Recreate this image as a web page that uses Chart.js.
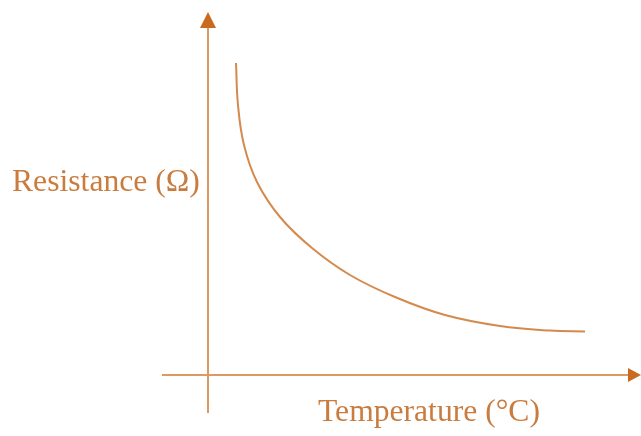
<!DOCTYPE html>
<html>
<head>
<meta charset="utf-8">
<script src="https://cdn.jsdelivr.net/npm/chart.js@4"></script>
<style>
  html, body { margin: 0; padding: 0; background: #fff; }
  #wrap { width: 641px; height: 436px; }
</style>
</head>
<body>
<div id="wrap"><canvas id="chart"></canvas></div>
<script>
// curve (arbitrary units, origin where the axes cross)
const temperature = [1.4, 1.5, 1.8, 2.45, 3.6, 5.2, 7.1, 9.35, 11.85, 14.6, 17.1, 18.85];
const resistance = [15.6, 13.5, 11.5, 9.65, 7.9, 6.35, 5.0, 3.9, 3.0, 2.45, 2.22, 2.18];
const xLabel = 'Temperature (\u00B0C)';
const yLabel = 'Resistance (\u03A9)';

const axisColor = '#dc9a62';
const arrowColor = '#c96a1f';
const textColor = '#c97c3e';
const curveColor = '#d48a4c';

// fit text into a given pixel width
function fitText(ctx, text, x, y, width, family) {
    let size = 30;
    ctx.font = size + 'px ' + family;
    const w = ctx.measureText(text).width;
    size = size * width / w;
    ctx.font = size + 'px ' + family;
    ctx.fillText(text, x, y);
}

const axesPlugin = {
    id: 'axesPlugin',
    afterDraw(chart) {
        const ctx = chart.ctx;
        const xs = chart.scales.x;
        const ys = chart.scales.y;
        const ox = xs.getPixelForValue(0);
        const oy = ys.getPixelForValue(0);
        ctx.save();
        ctx.strokeStyle = axisColor;
        ctx.lineWidth = 2;
        // vertical axis
        ctx.beginPath();
        ctx.moveTo(ox, ys.getPixelForValue(-1.9));
        ctx.lineTo(ox, ys.getPixelForValue(17.4));
        ctx.stroke();
        // horizontal axis
        ctx.beginPath();
        ctx.moveTo(xs.getPixelForValue(-2.3), oy);
        ctx.lineTo(xs.getPixelForValue(21.1), oy);
        ctx.stroke();
        // arrow heads
        ctx.fillStyle = arrowColor;
        const ty = ys.getPixelForValue(18.15);
        ctx.beginPath();
        ctx.moveTo(ox, ty);
        ctx.lineTo(ox - 8, ty + 16);
        ctx.lineTo(ox + 8, ty + 16);
        ctx.closePath();
        ctx.fill();
        const tx = xs.getPixelForValue(21.65);
        ctx.beginPath();
        ctx.moveTo(tx, oy);
        ctx.lineTo(tx - 13, oy - 7);
        ctx.lineTo(tx - 13, oy + 7);
        ctx.closePath();
        ctx.fill();
        // labels
        ctx.fillStyle = textColor;
        ctx.textBaseline = 'middle';
        ctx.textAlign = 'left';
        fitText(ctx, yLabel, 12, 183, 188, '"Liberation Serif", serif');
        fitText(ctx, xLabel, 318, 413, 222, '"Liberation Serif", serif');
        ctx.restore();
    }
};

const points = temperature.map((t, i) => ({ x: t, y: resistance[i] }));

new Chart(document.getElementById('chart'), {
    type: 'scatter',
    data: {
        datasets: [{
            data: points,
            showLine: true,
            borderColor: curveColor,
            borderWidth: 2,
            pointRadius: 0,
            tension: 0.4,
            fill: false,
            clip: false
        }]
    },
    options: {
        responsive: true,
        maintainAspectRatio: false,
        animation: false,
        layout: { padding: { left: 162, right: 0, top: 12, bottom: 23 } },
        scales: {
            x: { type: 'linear', min: -2.3, max: 21.65, display: false },
            y: { type: 'linear', min: -1.9, max: 18.15, display: false }
        },
        plugins: {
            legend: { display: false },
            tooltip: { enabled: false }
        }
    },
    plugins: [axesPlugin]
});
</script>
</body>
</html>
